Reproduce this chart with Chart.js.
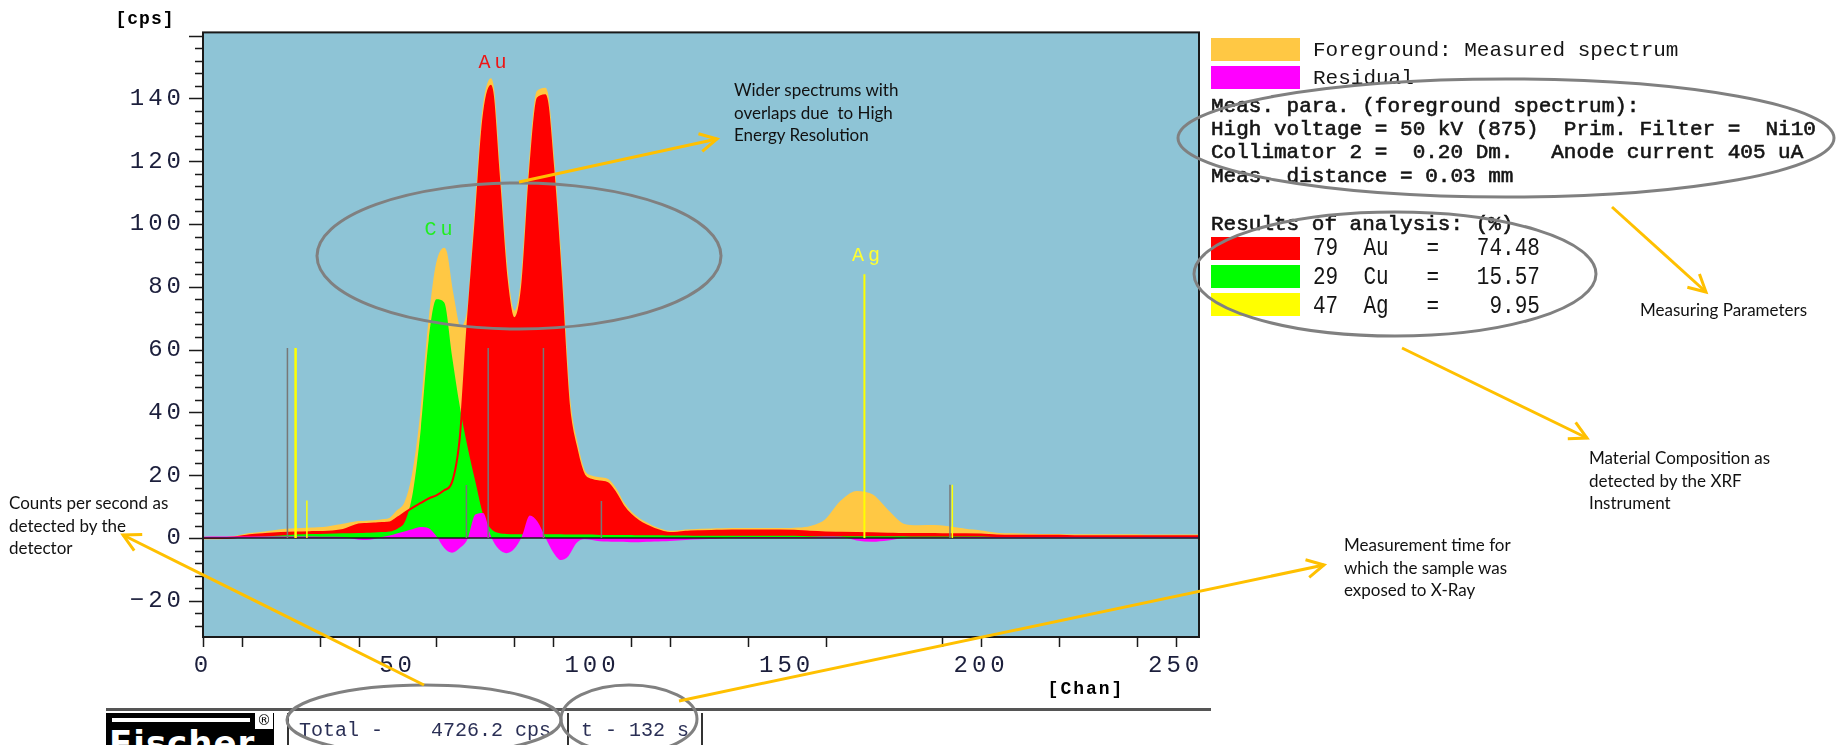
<!DOCTYPE html>
<html>
<head>
<meta charset="utf-8">
<title>XRF spectrum</title>
<script src="https://cdn.jsdelivr.net/npm/chart.js@4.4.1/dist/chart.umd.min.js"></script>
<style>
  html, body { margin: 0; padding: 0; background: #fff; }
  #wrap { position: relative; width: 1843px; height: 745px; overflow: hidden; }
  #spectrum { position: absolute; left: 0; top: 0; }
  .note { position: absolute; font-family: Lato, "Open Sans", sans-serif; font-size: 17px; line-height: 22.5px; color: #111; white-space: pre; }
  .mono { position: absolute; left: 1313px; font-family: "Liberation Mono", monospace; font-size: 21px; line-height: 24px; color: #151515; white-space: pre; }
  .para { left: 1211px; -webkit-text-stroke: 0.6px #151515; }
  .tall { transform: scaleY(1.25); transform-origin: left center; }
  .box { position: absolute; left: 1211px; width: 89px; height: 23px; }
  .sep { position: absolute; top: 713px; width: 2px; height: 32px; background: #333; }
  .bar { position: absolute; font-family: "Liberation Mono", monospace; font-size: 20px; line-height: 24px; top: 719px; color: #2a2f55; white-space: pre; }
  #overlay { position: absolute; left: 0; top: 0; pointer-events: none; }
</style>
</head>
<body>
<div id="wrap">
  <canvas id="spectrum" width="1843" height="745"></canvas>

  <!-- legend / results panel -->
  <div class="box" style="top:38px;background:#ffc844"></div>
  <div class="mono" style="top:39px">Foreground: Measured spectrum</div>
  <div class="box" style="top:66px;background:#ff00ff"></div>
  <div class="mono" style="top:67px">Residual</div>
  <div class="mono para" style="top:95px">Meas. para. (foreground spectrum):</div>
  <div class="mono para" style="top:118px">High voltage = 50 kV (875)  Prim. Filter =  Ni10</div>
  <div class="mono para" style="top:141px">Collimator 2 =  0.20 Dm.   Anode current 405 uA</div>
  <div class="mono para" style="top:165px">Meas. distance = 0.03 mm</div>
  <div class="mono para" style="top:213px">Results of analysis: (%)</div>
  <div class="box" style="top:237px;background:#ff0000"></div>
  <div class="mono tall" style="top:237px">79  Au   =   74.48</div>
  <div class="box" style="top:265px;background:#00ff00"></div>
  <div class="mono tall" style="top:266px">29  Cu   =   15.57</div>
  <div class="box" style="top:293px;background:#ffff00"></div>
  <div class="mono tall" style="top:295px">47  Ag   =    9.95</div>

  <!-- callout notes -->
  <div class="note" style="left:734px;top:79px">Wider spectrums with
overlaps due  to High
Energy Resolution</div>
  <div class="note" style="left:9px;top:492px">Counts per second as
detected by the
detector</div>
  <div class="note" style="left:1640px;top:299px">Measuring Parameters</div>
  <div class="note" style="left:1589px;top:447px">Material Composition as
detected by the XRF
Instrument</div>
  <div class="note" style="left:1344px;top:534px">Measurement time for
which the sample was
exposed to X-Ray</div>

  <!-- status bar -->
  <div style="position:absolute;left:106px;top:708px;width:1105px;height:3px;background:#555"></div>
  <div style="position:absolute;left:106px;top:713px;width:150px;height:32px;background:#000;overflow:hidden">
    <div style="position:absolute;left:6px;top:5px;width:138px;height:4px;background:#fff"></div>
    <div style="position:absolute;left:3px;top:13px;color:#fff;font:bold 34px 'DejaVu Sans';letter-spacing:1px;line-height:34px">Fischer</div>
  </div>
  <div style="position:absolute;left:256px;top:713px;width:18px;height:32px;background:#000"></div>
  <div style="position:absolute;left:255px;top:711px;width:18px;height:18px;background:#fff;font:14px 'DejaVu Sans';line-height:18px;text-align:center;color:#000">®</div>
  <div class="sep" style="left:287px"></div>
  <div class="bar" style="left:299px">Total -    4726.2 cps</div>
  <div class="sep" style="left:567px"></div>
  <div class="bar" style="left:581px">t - 132 s</div>
  <div class="sep" style="left:701px"></div>

  <svg id="overlay" width="1843" height="745">
    <defs>
      <marker id="head" markerUnits="userSpaceOnUse" markerWidth="24" markerHeight="24" refX="20" refY="12" orient="auto">
        <path d="M3,3 L20,12 L3,21" fill="none" stroke="#ffc000" stroke-width="3"/>
      </marker>
    </defs>
    <g fill="none" stroke="#808080" stroke-width="3">
      <ellipse cx="519" cy="256" rx="202" ry="73"/>
      <ellipse cx="1506" cy="138" rx="328" ry="59"/>
      <ellipse cx="1395" cy="274" rx="201" ry="62"/>
      <ellipse cx="424" cy="720" rx="137" ry="35"/>
      <ellipse cx="629" cy="719" rx="68" ry="34"/>
    </g>
    <g stroke="#ffc000" stroke-width="3" marker-end="url(#head)">
      <line x1="519" y1="182" x2="717" y2="139"/>
      <line x1="1612" y1="207" x2="1706" y2="292"/>
      <line x1="1402" y1="348" x2="1587" y2="438"/>
      <line x1="424" y1="685" x2="123" y2="535"/>
      <line x1="679" y1="701" x2="1324" y2="565"/>
    </g>
  </svg>
</div>

<script>
// channel positions shared by all spectrum series
const chan = [0, 4, 8, 12, 16, 20, 24, 28, 32, 36, 40,
  42, 44, 46, 48, 50, 52, 54, 56, 58, 60,
  62, 64, 66, 68, 70, 72, 74, 76, 78, 80,
  82, 84, 86, 88, 90, 92, 94, 96, 98, 100,
  102, 104, 106, 108, 110, 112, 114, 116, 118, 120,
  122, 124,
  128, 132, 136, 140, 144, 148, 152, 156, 160, 164,
  168, 172, 176, 180, 184, 188, 192, 196, 200, 204,
  208, 212, 216, 220, 224, 228, 232, 236, 240, 244,
  248, 252, 256];

// measured spectrum (cps)
const measured = [0, 0, 0.3, 1.2, 1.7, 2.4, 2.7, 3.0, 3.3, 4.2, 5.0,
  5.1, 5.3, 5.6, 6.0, 8.5, 11, 20, 38, 66, 86,
  92, 78, 67, 71, 102, 135, 146, 118, 85, 72,
  82, 118, 142, 143, 120, 85, 45, 30, 21, 19.5,
  19, 18.5, 15.5, 11, 8, 6, 4.6, 3.3, 2.4, 1.9,
  2.0, 2.3,
  2.6, 2.7, 2.8, 2.8, 2.8, 2.8, 2.9, 3.4, 5.5, 11.5,
  14.6, 13.5, 8.5, 4.2, 3.7, 3.8, 3.3, 2.6, 2.0, 1.3,
  1.1, 1.0, 0.9, 0.9, 0.8, 0.8, 0.8, 0.8, 0.8, 0.7,
  0.7, 0.7, 0.7];

// fitted Au contribution
const au = [0, 0, 0.2, 0.9, 1.3, 1.6, 1.8, 1.9, 2.0, 2.6, 4.3,
  4.5, 4.6, 4.8, 5.0, 6.5, 8.2, 9.8, 11.2, 12.6, 13.6,
  15.2, 17.8, 32, 68, 100, 133, 144, 116, 83, 70,
  80, 116, 140, 141, 118, 83, 43, 28.5, 20, 18.5,
  18, 17.5, 14.5, 10.3, 7.4, 5.4, 4.0, 2.9, 2.1, 1.6,
  1.7, 2.0,
  2.2, 2.3, 2.4, 2.4, 2.4, 2.4, 2.3, 2.0, 1.8, 1.7,
  1.6, 1.5, 1.4, 1.3, 1.3, 1.3, 1.2, 1.2, 1.1, 0.8,
  0.7, 0.7, 0.7, 0.7, 0.6, 0.6, 0.6, 0.6, 0.6, 0.6,
  0.6, 0.6, 0.6];

// fitted Cu contribution
const cu = [0, 0, 0.1, 0.3, 0.5, 0.8, 1.1, 1.3, 1.4, 1.5, 1.6,
  1.7, 1.8, 1.9, 2.1, 3.0, 5.5, 15, 35, 63, 76,
  75, 58, 42, 29, 18, 7.5, 3.0, 1.6, 1.3, 1.2,
  1.2, 1.2, 1.2, 1.2, 1.2, 1.2, 1.1, 1.1, 1.1, 1.1,
  1.0, 1.0, 1.0, 1.0, 1.0, 0.9, 0.9, 0.9, 0.9, 0.8,
  0.8, 0.8,
  0.7, 0.7, 0.7, 0.7, 0.7, 0.7, 0.7, 0.6, 0.6, 0.6,
  0.6, 0.6, 0.6, 0.6, 0.5, 0.5, 0.5, 0.5, 0.5, 0.3,
  0.3, 0.3, 0.3, 0.3, 0.3, 0.3, 0.3, 0.3, 0.3, 0.3,
  0.3, 0.3, 0.3];

// residual (measured - fit)
const residual = [0.4, 0.5, 0.5, 0.5, 0.5, 0.5, 0.5, 0.5, 0.4, 0.3, -0.5,
  -0.6, -0.3, 0.3, 0.8, 1.5, 2.2, 2.9, 3.5, 3.1, 0.6,
  -3.2, -4.7, -3.2, -0.3, 7.5, 8.0, 0.6, -3.5, -4.8, -3.4,
  0.6, 7.2, 5.2, 0.2, -4.5, -7.0, -5.6, -1.6, -0.4, -0.6,
  -1.0, -1.1, -1.2, -1.2, -1.3, -1.3, -1.2, -1.1, -1.0, -0.9,
  -0.8, -0.6,
  -0.4, -0.2, 0.2, 0.3, 0.3, 0.3, 0.3, 0.3, 0.5, 0.4,
  -0.8, -1.2, -0.8, 0, 0.2, 0.2, 0.2, 0.3, 0.3, 0.3,
  0.3, 0.3, 0.3, 0.3, 0.3, 0.3, 0.3, 0.3, 0.3, 0.3,
  0.3, 0.3, 0.3];

// line markers
const grayLineX = [21.7, 67.7, 73.3, 87.5, 102.4, 192.0];
const grayLineTop = [60.5, 16.9, 60.5, 60.5, 11.8, 17.0];
const yellowLineX = [23.8, 26.7, 170.0, 192.6];
const yellowLineTop = [60.5, 12.0, 84.0, 17.0];
const yellowLineWidth = [2.5, 1.5, 2, 1.5];

// element labels
const peakNames = ['Au', 'Cu', 'Ag'];
const peakChan = [74.4, 60.5, 170.4];
const peakCps = [151.3, 98.1, 90.0];
const peakColors = ['#ee1414', '#20ee20', '#ffff30'];

// axis ticks
const xTickLabels = [0, 50, 100, 150, 200, 250];
const xTickMarks = [0, 10, 30, 40, 60, 80, 90, 110, 120, 140, 160, 190, 200, 220, 240, 250];
const yTickLabels = [-20, 0, 20, 40, 60, 80, 100, 120, 140, 160];

function pts(ys) {
    return chan.map((c, i) => ({ x: c, y: ys[i] }));
}

const smooth = { cubicInterpolationMode: 'monotone' };

const datasets = [
    { label: 'Foreground: Measured spectrum', data: pts(measured), backgroundColor: '#ffc844',
      borderColor: '#ffc844', borderWidth: 2.5, fill: 'origin', order: 7, ...smooth },
    { label: 'Au', data: pts(au), backgroundColor: '#ff0000', borderWidth: 0, fill: 'origin', order: 6, ...smooth },
    { label: 'Cu', data: pts(cu), backgroundColor: '#00ff00', borderWidth: 0, fill: 'origin', order: 5, ...smooth },
    { label: 'Au edge', data: pts(au), borderColor: '#ff0000', borderWidth: 2, fill: false, order: 4, ...smooth },
    { label: 'Residual', data: pts(residual), backgroundColor: '#ff00ff', borderWidth: 0, fill: 'origin', order: 3, ...smooth },
    { label: 'zero', data: [{ x: 0, y: 0 }, { x: 256, y: 0 }], borderColor: '#1a1a1a', borderWidth: 1.5, order: 2 }
];

grayLineX.forEach((x, i) => {
    datasets.push({ data: [{ x, y: 0 }, { x, y: grayLineTop[i] }], borderColor: '#777777', borderWidth: 1.5, order: 1 });
});
yellowLineX.forEach((x, i) => {
    datasets.push({ data: [{ x, y: 0 }, { x, y: yellowLineTop[i] }], borderColor: '#ffff00', borderWidth: yellowLineWidth[i], order: 0 });
});

function spacing(ctx, px) {
    if ('letterSpacing' in ctx) ctx.letterSpacing = px;
}

const decor = {
    id: 'decor',
    beforeDraw(chart) {
        const { ctx, chartArea: a } = chart;
        ctx.save();
        ctx.fillStyle = '#8ec4d6';
        ctx.fillRect(a.left, a.top, a.right - a.left, a.bottom - a.top);
        ctx.restore();
        // wide digits on the axes like the instrument print-out
        spacing(ctx, '4px');
    },
    beforeDatasetsDraw(chart) {
        spacing(chart.ctx, '0px');
    },
    afterDraw(chart) {
        const { ctx, chartArea: a, scales } = chart;
        ctx.save();
        spacing(ctx, '0px');
        ctx.strokeStyle = '#1a1a1a';
        ctx.lineWidth = 2;
        ctx.strokeRect(a.left, a.top, a.right - a.left, a.bottom - a.top);

        // tick marks
        ctx.lineWidth = 1.5;
        ctx.beginPath();
        for (let v = -28; v <= 160; v += 4) {
            const y = Math.round(scales.y.getPixelForValue(v)) + 0.5;
            const len = v % 20 === 0 ? 14 : 8;
            ctx.moveTo(a.left - len, y);
            ctx.lineTo(a.left, y);
        }
        xTickMarks.forEach(v => {
            const x = Math.round(scales.x.getPixelForValue(v)) + 0.5;
            ctx.moveTo(x, a.bottom);
            ctx.lineTo(x, a.bottom + 10);
        });
        ctx.stroke();

        // element names over the peaks
        ctx.textAlign = 'center';
        ctx.textBaseline = 'middle';
        ctx.font = '20px "Liberation Mono"';
        spacing(ctx, '4px');
        peakNames.forEach((name, i) => {
            ctx.fillStyle = peakColors[i];
            ctx.fillText(name, scales.x.getPixelForValue(peakChan[i]) + 2, scales.y.getPixelForValue(peakCps[i]));
        });

        // axis units
        ctx.fillStyle = '#000';
        ctx.font = 'bold 18px "Liberation Mono"';
        spacing(ctx, '1px');
        ctx.fillText('[cps]', 145, 19);
        spacing(ctx, '2px');
        ctx.fillText('[Chan]', 1086, 689);
        ctx.restore();
    }
};

new Chart(document.getElementById('spectrum'), {
    type: 'line',
    data: { datasets },
    options: {
        responsive: false,
        animation: false,
        layout: { padding: { left: 0, top: 32, right: 644, bottom: 0 } },
        elements: { point: { radius: 0 }, line: { tension: 0 } },
        plugins: { legend: { display: false }, tooltip: { enabled: false } },
        scales: {
            x: {
                type: 'linear',
                min: 0,
                max: 256,
                afterBuildTicks: s => { s.ticks = xTickLabels.map(v => ({ value: v })); },
                afterFit: s => { s.height = 108; },
                grid: { drawOnChartArea: false, drawTicks: false },
                border: { display: false },
                ticks: {
                    autoSkip: false,
                    maxRotation: 0,
                    padding: 14,
                    color: '#1c1f3c',
                    font: { family: 'Liberation Mono', size: 24 }
                }
            },
            y: {
                type: 'linear',
                min: -31.5,
                max: 161,
                afterBuildTicks: s => { s.ticks = yTickLabels.map(v => ({ value: v })); },
                afterFit: s => { s.width = 203; },
                grid: { drawOnChartArea: false, drawTicks: false },
                border: { display: false },
                ticks: {
                    padding: 18,
                    color: '#1c1f3c',
                    font: { family: 'Liberation Mono', size: 24 },
                    callback: v => v === 160 ? '' : (v < 0 ? '\u2212' + Math.abs(v) : String(v))
                }
            }
        }
    },
    plugins: [decor]
});
</script>
</body>
</html>
